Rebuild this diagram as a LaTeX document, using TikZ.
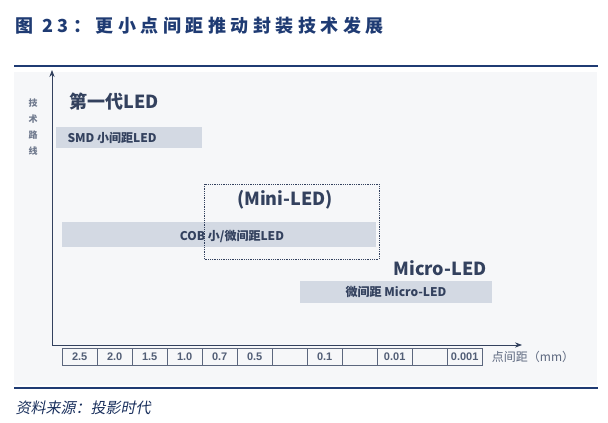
\documentclass[tikz,border=0pt]{standalone}
\usepackage{fontspec}
\setmainfont{Liberation Sans}
\newfontfamily\cjk{Noto Sans CJK SC}
\newfontfamily\cjkwide[LetterSpace=25]{Noto Sans CJK SC}
\newfontfamily\cjkit[FakeSlant=0.2]{Noto Sans CJK SC}
\usetikzlibrary{arrows.meta, positioning}
\definecolor{navy}{HTML}{1F3B73}
\definecolor{ink}{HTML}{33415E}
\definecolor{band}{HTML}{D3D9E3}
\definecolor{panel}{HTML}{F6F7F9}
\tikzstyle{bar} = [fill=band, inner sep=0pt, anchor=north west]
\tikzstyle{bartext} = [text=ink, font=\cjk\bfseries\fontsize{12}{14}\selectfont]
\tikzstyle{cell} = [draw=ink!80, thin, minimum width=35pt, minimum height=17pt, inner sep=0pt, font=\bfseries\fontsize{11}{13}\selectfont, text=ink!85]
\tikzstyle{gen} = [font=\cjk\bfseries\fontsize{18}{20}\selectfont, text=ink]
\tikzstyle{axis} = [-{Stealth[length=7pt]}, thick, ink]

\begin{document}
\begin{tikzpicture}[x=1pt, y=-1pt]
    \useasboundingbox (0,0) rectangle (608,423);
    \fill [panel] (14,72) rectangle (597,385);

    % Title and rules.
    \node (title) [anchor=west, text=navy, font=\cjkwide\bfseries\fontsize{18}{20}\selectfont] at (12,26) {图 23：更小点间距推动封装技术发展};
    \draw [navy, line width=1.2pt] (14,66) -- (598,66);
    \draw [navy, line width=1.2pt] (14,388) -- (598,388);
    \node (source) [anchor=west, text=navy!80!black, font=\cjkit\fontsize{15}{17}\selectfont] at (12,408) {资料来源：投影时代};

    % Axes.
    \coordinate (origin) at (52,345);
    \coordinate (ytop) at (52,70);
    \coordinate (xend) at (522,345);
    \draw [axis] (origin) -- (ytop);
    \draw [axis] (origin) -- (xend);
    \foreach\c [count=\k] in {技,术,路,线} {
        \node (ylabel\k) [text=ink!70, font=\cjk\bfseries\fontsize{9}{10}\selectfont] at (33,87+16*\k) {\c};
    }

    % Cells.
    \foreach\i/\v in {0/2.5, 1/2.0, 2/1.5, 3/1.0, 4/0.7, 5/0.5, 6/, 7/0.1, 8/, 9/0.01, 10/, 11/0.001} {
        \node (cell\i) [cell, anchor=north west] at (62+35*\i,348) {\v};
    }
    \node (xlabel) [right=6pt of cell11, text=ink!80, font=\cjk\fontsize{12}{14}\selectfont] {点间距（mm）};

    % Generations.
    \node (gen1) [gen, anchor=west] at (66,102) {第一代LED};
    \node (smd) [bar, minimum width=146pt, minimum height=21pt] at (56,127) {};
    \node [bartext, anchor=west] at ([xshift=8pt]smd.west) {SMD 小间距LED};

    \node (cob) [bar, minimum width=314pt, minimum height=25pt] at (62,222) {};
    \node [bartext] at (232,236) {COB 小/微间距LED};
    \draw [ink, densely dotted, thick] (204,184) rectangle (379,259);
    \node (mini) [gen] at (285,200) {(Mini-LED)};

    \node (micro) [gen] at (440,268) {Micro-LED};
    \node (microbar) [bar, minimum width=192pt, minimum height=22pt] at (300,281) {};
    \node [bartext] at (396,292) {微间距 Micro-LED};
\end{tikzpicture}
\end{document}
